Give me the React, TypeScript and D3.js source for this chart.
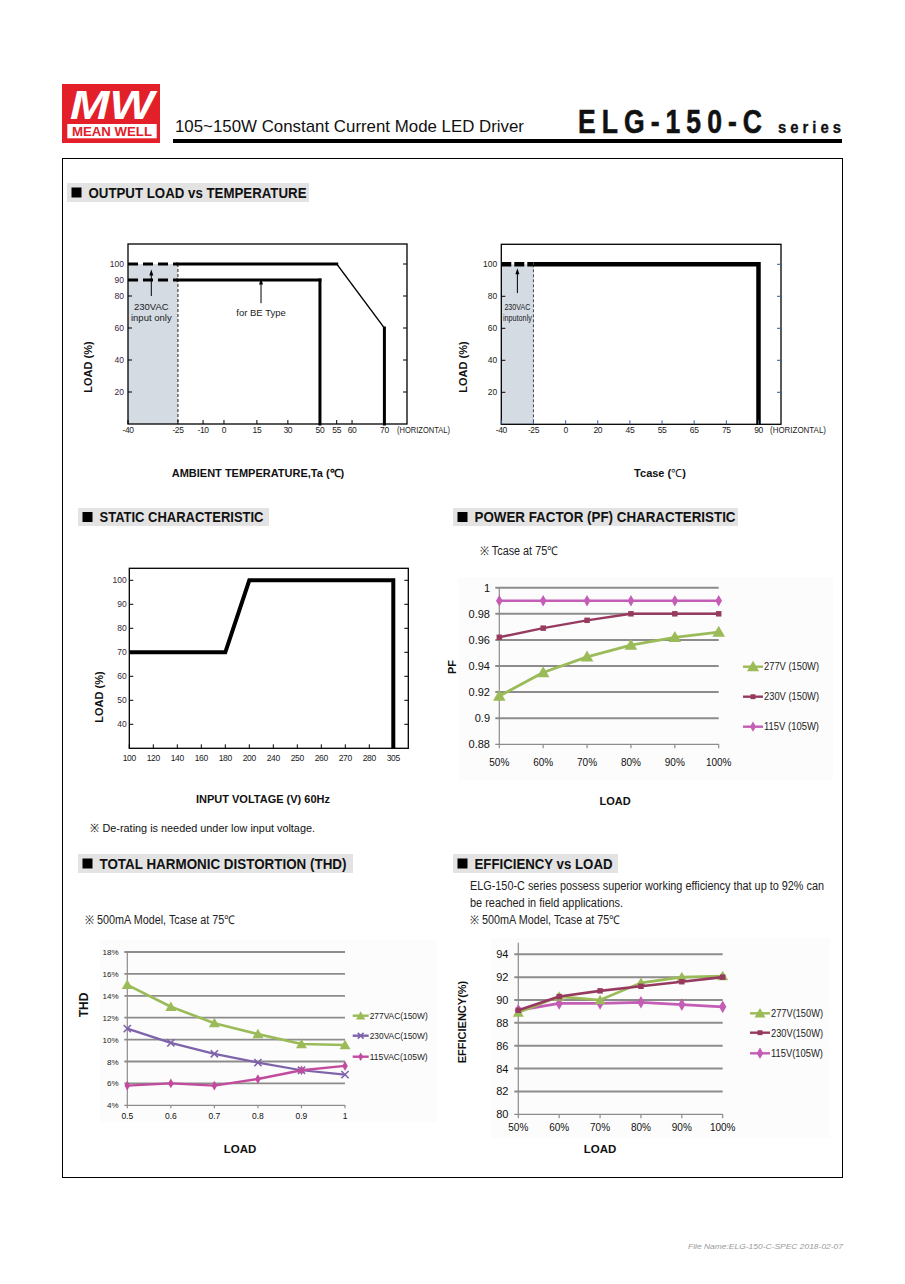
import React from 'react';
import * as d3 from 'd3';

// ---------------- DATA ----------------
// Output load vs ambient temperature
const AMB_TICKS = [-40, -25, -10, 0, 15, 30, 50, 55, 60, 70];
const AMB_Y_TICKS_L = [100, 90, 80, 60, 40, 20];
const AMB_Y_TICKS_R = [100, 80, 60, 40, 20];
const AMB_STD: [number, number][] = [[-25, 100], [55, 100], [70, 60], [70, 0]];
const AMB_BE: [number, number][] = [[-25, 90], [50, 90], [50, 0]];
const AMB_DASH_LEVELS = [100, 90];
const AMB_SHADE = [-40, -25];

// Output load vs Tcase
const CASE_TICKS = ['-40', '-25', '0', '20', '45', '55', '65', '75', '90'];
const CASE_Y_TICKS = [100, 80, 60, 40, 20];
const CASE_LOAD: [string, number][] = [['-25', 100], ['90', 100], ['90', 0]];

// Static characteristic
const VIN_TICKS = ['100', '120', '140', '160', '180', '200', '240', '250', '260', '270', '280', '305'];
const STATIC_Y_TICKS = [100, 90, 80, 70, 60, 50, 40];
const STATIC_LOAD: [string, number][] = [['100', 70], ['180', 70], ['200', 100], ['305', 100], ['305', 30]];

// Power factor
const LOAD_PCT = ['50%', '60%', '70%', '80%', '90%', '100%'];
const PF_TICKS = [0.88, 0.9, 0.92, 0.94, 0.96, 0.98, 1];
const PF_277 = [0.917, 0.935, 0.947, 0.956, 0.962, 0.966];
const PF_230 = [0.962, 0.969, 0.975, 0.980, 0.980, 0.980];
const PF_115 = [0.990, 0.990, 0.990, 0.990, 0.990, 0.990];
const PF_NAMES = ['277V (150W)', '230V (150W)', '115V (105W)'];

// THD
const THD_LOAD = [0.5, 0.6, 0.7, 0.8, 0.9, 1];
const THD_TICKS = [4, 6, 8, 10, 12, 14, 16, 18];
const THD_277 = [15.0, 13.0, 11.5, 10.5, 9.6, 9.5];
const THD_230 = [11.0, 9.7, 8.7, 7.9, 7.2, 6.8];
const THD_115 = [5.8, 6.0, 5.8, 6.4, 7.2, 7.6];
const THD_NAMES = ['277VAC(150W)', '230VAC(150W)', '115VAC(105W)'];

// Efficiency
const EFF_TICKS = [80, 82, 84, 86, 88, 90, 92, 94];
const EFF_277 = [88.9, 90.3, 90.0, 91.5, 92.0, 92.1];
const EFF_230 = [89.1, 90.3, 90.8, 91.2, 91.6, 92.0];
const EFF_115 = [89.1, 89.7, 89.7, 89.8, 89.6, 89.4];
const EFF_NAMES = ['277V(150W)', '230V(150W)', '115V(105W)'];

// ---------------- LAYOUT ----------------
const FONT = "'Liberation Sans', Arial, Helvetica, sans-serif";
const AMB_TICK_FRAC = [0, 0.179, 0.269, 0.344, 0.462, 0.573, 0.688, 0.748, 0.803, 0.919];
const GREEN = '#9bbb59';
const MAROON = '#973a60';
const ORCHID = '#c35db5';
const PURPLE = '#7e62aa';
const PINK = '#c24b9d';
const GRID = '#8c8c8c';
const PLOT_BG = '#fcfcfc';
const LOGO_RED = '#e3202a';

type MarkerType = 'tri' | 'sq' | 'dia' | 'x';

function Marker({ type, x, y, color, size = 1 }: { type: MarkerType; x: number; y: number; color: string; size?: number }) {
  if (type === 'x') {
    const s = 3.6 * size;
    return (
      <g stroke={color} strokeWidth={1.6}>
        <line x1={x - s} y1={y - s} x2={x + s} y2={y + s} />
        <line x1={x - s} y1={y + s} x2={x + s} y2={y - s} />
      </g>
    );
  }
  const sym = type === 'tri' ? d3.symbolTriangle : type === 'sq' ? d3.symbolSquare : d3.symbolDiamond;
  const area = (type === 'tri' ? 52 : type === 'sq' ? 30 : 38) * size * size;
  const d = d3.symbol(sym, area)() || '';
  return <path d={d} transform={`translate(${x},${y + (type === 'tri' ? 1 : 0)})`} fill={color} />;
}

function Series({ pts, color, marker, width = 2.4, size = 1 }: { pts: [number, number][]; color: string; marker: MarkerType; width?: number; size?: number }) {
  const d = d3.line()(pts) || '';
  return (
    <g>
      <path d={d} fill="none" stroke={color} strokeWidth={width} strokeLinejoin="round" />
      {pts.map((p, i) => (
        <Marker key={i} type={marker} x={p[0]} y={p[1]} color={color} size={size} />
      ))}
    </g>
  );
}

function Heading({ x, y, w, h, text, textW }: { x: number; y: number; w: number; h: number; text: string; textW: number }) {
  return (
    <g>
      <rect x={x} y={y} width={w} height={h} fill="#e3e3e3" />
      <rect x={x + 4.5} y={y + h / 2 - 5} width={10} height={10} fill="#000" />
      <text x={x + 21.5} y={y + h - 3.6} fontSize={15} fontWeight="bold" fill="#111" textLength={textW} lengthAdjust="spacingAndGlyphs">
        {text}
      </text>
    </g>
  );
}

function Arrow({ x, y1, y2 }: { x: number; y1: number; y2: number }) {
  return (
    <g>
      <line x1={x} y1={y1} x2={x} y2={y2 + 4} stroke="#000" strokeWidth={1} />
      <path d={`M${x},${y2} L${x - 2},${y2 + 6} L${x + 2},${y2 + 6} Z`} fill="#000" />
    </g>
  );
}

function RotLabel({ x, y, text, size = 11 }: { x: number; y: number; text: string; size?: number }) {
  return (
    <text transform={`translate(${x},${y}) rotate(-90)`} textAnchor="middle" fontSize={size} fontWeight="bold" fill="#111">
      {text}
    </text>
  );
}

// ---------------- CHARTS ----------------
function AmbientChart() {
  const L = 128, R = 407, T = 244, B = 424;
  const x = d3.scaleLinear().domain(AMB_TICKS).range(AMB_TICK_FRAC.map((f) => L + f * (R - L)));
  const y = d3.scaleLinear().domain([0, 112.5]).range([B, T]);
  const seg = (pts: [number, number][]) =>
    pts.slice(1).map((p, i) => {
      const a = pts[i];
      const straight = a[0] === p[0] || a[1] === p[1];
      return (
        <line key={i} x1={x(a[0])} y1={y(a[1])} x2={x(p[0])} y2={y(p[1])} stroke="#000" strokeWidth={straight ? 3 : 1.4} strokeLinecap="square" />
      );
    });
  return (
    <g>
      <rect x={x(AMB_SHADE[0])} y={y(100)} width={x(AMB_SHADE[1]) - x(AMB_SHADE[0])} height={y(0) - y(100)} fill="#d4dbe2" />
      <line x1={x(AMB_SHADE[1])} y1={y(100)} x2={x(AMB_SHADE[1])} y2={B} stroke="#222" strokeWidth={1} strokeDasharray="3 2" />
      {AMB_DASH_LEVELS.map((v) => (
        <line key={v} x1={x(AMB_SHADE[0])} y1={y(v)} x2={x(AMB_SHADE[1])} y2={y(v)} stroke="#000" strokeWidth={3} strokeDasharray="10 5" />
      ))}
      {seg(AMB_STD)}
      {seg(AMB_BE)}
      <rect x={L} y={T} width={R - L} height={B - T} fill="none" stroke="#000" strokeWidth={1.3} />
      {AMB_Y_TICKS_L.map((v) => (
        <g key={v}>
          <line x1={L} x2={L + 4} y1={y(v)} y2={y(v)} stroke="#000" strokeWidth={1} />
          <text x={L - 4} y={y(v) + 3} fontSize={8.5} textAnchor="end" fill="#3a1f3a">{v}</text>
        </g>
      ))}
      {AMB_Y_TICKS_R.map((v) => (
        <line key={v} x1={R - 4} x2={R} y1={y(v)} y2={y(v)} stroke="#000" strokeWidth={1} />
      ))}
      {AMB_TICKS.map((v) => (
        <g key={v}>
          <line x1={x(v)} x2={x(v)} y1={B} y2={B - 4} stroke="#000" strokeWidth={1} />
          <text x={x(v)} y={B + 9} fontSize={8.5} textAnchor="middle" fill="#222" letterSpacing={-0.4}>{v}</text>
        </g>
      ))}
      <text x={397} y={B + 9} fontSize={8.5} fill="#222" textLength={53} lengthAdjust="spacingAndGlyphs">(HORIZONTAL)</text>
      <Arrow x={x(-33)} y1={y(80)} y2={y(96.5)} />
      <text x={x(-33)} y={310} fontSize={9.5} textAnchor="middle" fill="#222">230VAC</text>
      <text x={x(-33)} y={320.5} fontSize={9.5} textAnchor="middle" fill="#222">input only</text>
      <Arrow x={x(17)} y1={y(75.5)} y2={y(91)} />
      <text x={x(17)} y={316} fontSize={9.5} textAnchor="middle" fill="#222">for BE Type</text>
      <RotLabel x={92} y={367} text="LOAD (%)" />
      <text x={258} y={477} fontSize={11} fontWeight="bold" textAnchor="middle" fill="#111">AMBIENT TEMPERATURE,Ta (℃)</text>
    </g>
  );
}

function CaseChart() {
  const L = 501.3, R = 781, T = 244.3, B = 424.3;
  const x = d3.scalePoint<string>().domain(CASE_TICKS).range([L, 758.5]);
  const y = d3.scaleLinear().domain([0, 112.5]).range([B, T]);
  const line = d3.line<[string, number]>().x((d) => x(d[0]) as number).y((d) => y(d[1]));
  const step = x.step();
  const ax = (x('-40') as number) + step / 2;
  return (
    <g>
      <rect x={x('-40')} y={y(100)} width={(x('-25') as number) - (x('-40') as number)} height={y(0) - y(100)} fill="#d4dbe2" />
      <line x1={x('-25')} y1={y(100)} x2={x('-25')} y2={B} stroke="#444" strokeWidth={1} strokeDasharray="3 2" />
      <line x1={x('-40')} y1={y(100)} x2={x('-25')} y2={y(100)} stroke="#000" strokeWidth={4.5} strokeDasharray="10 3" />
      <path d={line(CASE_LOAD) || ''} fill="none" stroke="#000" strokeWidth={4.5} strokeLinejoin="miter" />
      <rect x={L} y={T} width={R - L} height={B - T} fill="none" stroke="#000" strokeWidth={1.3} />
      {CASE_Y_TICKS.map((v) => (
        <g key={v}>
          <line x1={L} x2={L + 4} y1={y(v)} y2={y(v)} stroke="#000" strokeWidth={1} />
          <line x1={R - 4} x2={R} y1={y(v)} y2={y(v)} stroke="#2f5aa6" strokeWidth={1} />
          <text x={L - 4} y={y(v) + 3} fontSize={8.5} textAnchor="end" fill="#222">{v}</text>
        </g>
      ))}
      {CASE_TICKS.map((v) => (
        <g key={v}>
          <line x1={x(v)} x2={x(v)} y1={B} y2={B - 4} stroke="#2f5aa6" strokeWidth={1} />
          <text x={x(v)} y={B + 9} fontSize={8.5} textAnchor="middle" fill="#222" letterSpacing={-0.4}>{v}</text>
        </g>
      ))}
      <text x={770} y={B + 9} fontSize={8.5} fill="#222" textLength={56} lengthAdjust="spacingAndGlyphs">(HORIZONTAL)</text>
      <Arrow x={ax} y1={y(82)} y2={y(97.5)} />
      <text x={ax} y={309.5} fontSize={9} textAnchor="middle" fill="#222" textLength={26} lengthAdjust="spacingAndGlyphs">230VAC</text>
      <text x={ax} y={321} fontSize={9} textAnchor="middle" fill="#222" textLength={29} lengthAdjust="spacingAndGlyphs">inputonly</text>
      <RotLabel x={467} y={367} text="LOAD (%)" />
      <text x={660} y={477} fontSize={11} fontWeight="bold" textAnchor="middle" fill="#111">
        Tcase (<tspan fontWeight="normal">℃</tspan>)
      </text>
    </g>
  );
}

function StaticChart() {
  const L = 129.3, R = 408.3, T = 568.3, B = 748.3;
  const x = d3.scalePoint<string>().domain(VIN_TICKS).range([L, 393.3]);
  const y = d3.scaleLinear().domain([30, 105]).range([B, T]);
  const line = d3.line<[string, number]>().x((d) => x(d[0]) as number).y((d) => y(d[1]));
  return (
    <g>
      <path d={line(STATIC_LOAD) || ''} fill="none" stroke="#000" strokeWidth={4} strokeLinejoin="miter" />
      <rect x={L} y={T} width={R - L} height={B - T} fill="none" stroke="#000" strokeWidth={1.3} />
      {STATIC_Y_TICKS.map((v) => (
        <g key={v}>
          <line x1={L} x2={L + 4} y1={y(v)} y2={y(v)} stroke="#000" strokeWidth={1} />
          <line x1={R - 4} x2={R} y1={y(v)} y2={y(v)} stroke="#000" strokeWidth={1} />
          <text x={L - 2.5} y={y(v) + 3} fontSize={8.5} textAnchor="end" fill="#3a1f3a">{v}</text>
        </g>
      ))}
      {VIN_TICKS.map((v) => (
        <g key={v}>
          <line x1={x(v)} x2={x(v)} y1={B} y2={B - 4} stroke="#000" strokeWidth={1} />
          <text x={x(v)} y={B + 13} fontSize={8.5} textAnchor="middle" fill="#222" letterSpacing={-0.4}>{v}</text>
        </g>
      ))}
      <RotLabel x={103} y={697} text="LOAD (%)" />
      <text x={263} y={803} fontSize={11} fontWeight="bold" textAnchor="middle" fill="#111">INPUT VOLTAGE (V) 60Hz</text>
      <text x={90} y={832} fontSize={11.5} fill="#111" textLength={225} lengthAdjust="spacingAndGlyphs">※ De-rating is needed under low input voltage.</text>
    </g>
  );
}

function LegendItem({ x, y, color, marker, text, size, lineW, textW, fontSize }: { x: number; y: number; color: string; marker: MarkerType; text: string; size: number; lineW: number; textW: number; fontSize: number }) {
  return (
    <g>
      <line x1={x} x2={x + lineW} y1={y} y2={y} stroke={color} strokeWidth={2.4} />
      <Marker type={marker} x={x + lineW / 2} y={y} color={color} size={size} />
      <text x={x + lineW + 1} y={y + fontSize * 0.36} fontSize={fontSize} fill="#222" textLength={textW} lengthAdjust="spacingAndGlyphs">{text}</text>
    </g>
  );
}

function PFChart() {
  const L = 499.3, R = 718.7, T = 587.7, B = 744.3;
  const x = d3.scalePoint<string>().domain(LOAD_PCT).range([L, R]);
  const y = d3.scaleLinear().domain([0.88, 1]).range([B, T]);
  const pts = (arr: number[]) => LOAD_PCT.map((c, i) => [x(c) as number, y(arr[i])] as [number, number]);
  return (
    <g>
      <rect x={458} y={577} width={375} height={203} fill={PLOT_BG} />
      {PF_TICKS.map((v) => (
        <g key={v}>
          <line x1={L - 4} x2={R} y1={y(v)} y2={y(v)} stroke={GRID} strokeWidth={v === 0.88 ? 1.2 : 2} />
          <text x={490} y={y(v) + 4} fontSize={11} textAnchor="end" fill="#111">{v}</text>
        </g>
      ))}
      <line x1={L} x2={L} y1={T} y2={B} stroke={GRID} strokeWidth={1.2} />
      {LOAD_PCT.map((c) => (
        <g key={c}>
          <line x1={x(c)} x2={x(c)} y1={B} y2={B + 4} stroke={GRID} strokeWidth={1.2} />
          <text x={x(c)} y={766} fontSize={10} textAnchor="middle" fill="#111">{c}</text>
        </g>
      ))}
      <Series pts={pts(PF_115)} color={ORCHID} marker="dia" />
      <Series pts={pts(PF_230)} color={MAROON} marker="sq" />
      <Series pts={pts(PF_277)} color={GREEN} marker="tri" width={2.8} size={1.15} />
      <LegendItem x={743} y={666.7} color={GREEN} marker="tri" text={PF_NAMES[0]} size={1.1} lineW={20} textW={55} fontSize={10.5} />
      <LegendItem x={743} y={696.7} color={MAROON} marker="sq" text={PF_NAMES[1]} size={0.9} lineW={20} textW={55} fontSize={10.5} />
      <LegendItem x={743} y={726.7} color={ORCHID} marker="dia" text={PF_NAMES[2]} size={0.9} lineW={20} textW={55} fontSize={10.5} />
      <RotLabel x={456} y={667} text="PF" />
      <text x={615} y={805} fontSize={11} fontWeight="bold" textAnchor="middle" fill="#111">LOAD</text>
      <text x={480} y={555} fontSize={12} fill="#222" textLength={78} lengthAdjust="spacingAndGlyphs">※ Tcase at 75℃</text>
    </g>
  );
}

function THDChart() {
  const L = 127.3, R = 345, T = 952, B = 1105.3;
  const x = d3.scaleLinear().domain([0.5, 1]).range([L, R]);
  const y = d3.scaleLinear().domain([4, 18]).range([B, T]);
  const pts = (arr: number[]) => THD_LOAD.map((c, i) => [x(c), y(arr[i])] as [number, number]);
  return (
    <g>
      <rect x={100} y={940} width={337} height={182} fill={PLOT_BG} />
      {THD_TICKS.map((v) => (
        <g key={v}>
          <line x1={L - 3} x2={R} y1={y(v)} y2={y(v)} stroke={GRID} strokeWidth={v === 4 ? 1.2 : 1.8} />
          <text x={118.5} y={y(v) + 3} fontSize={8} textAnchor="end" fill="#222">{v}%</text>
        </g>
      ))}
      <line x1={L} x2={L} y1={T} y2={B} stroke={GRID} strokeWidth={1.2} />
      {THD_LOAD.map((c) => (
        <g key={c}>
          <line x1={x(c)} x2={x(c)} y1={B} y2={B + 3} stroke={GRID} strokeWidth={1.2} />
          <text x={x(c)} y={1118.5} fontSize={8.5} textAnchor="middle" fill="#111">{c}</text>
        </g>
      ))}
      <Series pts={pts(THD_277)} color={GREEN} marker="tri" width={2.6} />
      <Series pts={pts(THD_230)} color={PURPLE} marker="x" width={2.2} />
      <Series pts={pts(THD_115)} color={PINK} marker="dia" width={2.4} size={0.85} />
      <LegendItem x={352.7} y={1015.7} color={GREEN} marker="tri" text={THD_NAMES[0]} size={0.85} lineW={16} textW={58} fontSize={8.5} />
      <LegendItem x={352.7} y={1035.7} color={PURPLE} marker="x" text={THD_NAMES[1]} size={0.8} lineW={16} textW={58} fontSize={8.5} />
      <LegendItem x={352.7} y={1056.7} color={PINK} marker="dia" text={THD_NAMES[2]} size={0.75} lineW={16} textW={58} fontSize={8.5} />
      <RotLabel x={88} y={1005} text="THD" size={12} />
      <text x={240} y={1153} fontSize={11.5} fontWeight="bold" textAnchor="middle" fill="#111">LOAD</text>
      <text x={85} y={924} fontSize={12} fill="#222" textLength={150} lengthAdjust="spacingAndGlyphs">※ 500mA Model, Tcase at 75℃</text>
    </g>
  );
}

function EffChart() {
  const L = 518.3, R = 722.7, T = 954.3, B = 1114.3;
  const x = d3.scalePoint<string>().domain(LOAD_PCT).range([L, R]);
  const y = d3.scaleLinear().domain([80, 94]).range([B, T]);
  const pts = (arr: number[]) => LOAD_PCT.map((c, i) => [x(c) as number, y(arr[i])] as [number, number]);
  return (
    <g>
      <rect x={491} y={938} width={339} height={200} fill={PLOT_BG} />
      {EFF_TICKS.map((v) => (
        <g key={v}>
          <line x1={L - 4} x2={R} y1={y(v)} y2={y(v)} stroke={GRID} strokeWidth={v === 80 ? 1.2 : 2} />
          <text x={508.5} y={y(v) + 4} fontSize={11} textAnchor="end" fill="#111">{v}</text>
        </g>
      ))}
      <line x1={L} x2={L} y1={y(95)} y2={B} stroke={GRID} strokeWidth={1.2} />
      {LOAD_PCT.map((c) => (
        <g key={c}>
          <line x1={x(c)} x2={x(c)} y1={B} y2={B + 4} stroke={GRID} strokeWidth={1.2} />
          <text x={x(c)} y={1131} fontSize={10} textAnchor="middle" fill="#111">{c}</text>
        </g>
      ))}
      <Series pts={pts(EFF_115)} color={ORCHID} marker="dia" width={2.8} size={1.1} />
      <Series pts={pts(EFF_277)} color={GREEN} marker="tri" width={2.6} />
      <Series pts={pts(EFF_230)} color={MAROON} marker="sq" width={2.6} />
      <LegendItem x={750} y={1013.3} color={GREEN} marker="tri" text={EFF_NAMES[0]} size={1} lineW={20} textW={52} fontSize={11} />
      <LegendItem x={750} y={1032.7} color={MAROON} marker="sq" text={EFF_NAMES[1]} size={0.9} lineW={20} textW={52} fontSize={11} />
      <LegendItem x={750} y={1053.3} color={ORCHID} marker="dia" text={EFF_NAMES[2]} size={1} lineW={20} textW={52} fontSize={11} />
      <RotLabel x={466} y={1022} text="EFFICIENCY(%)" size={11} />
      <text x={600} y={1153} fontSize={11.5} fontWeight="bold" textAnchor="middle" fill="#111">LOAD</text>
      <text x={470} y={889.5} fontSize={12} fill="#222" textLength={354} lengthAdjust="spacingAndGlyphs">ELG-150-C series possess superior working efficiency that up to 92% can</text>
      <text x={470} y={906.5} fontSize={12} fill="#222" textLength={153} lengthAdjust="spacingAndGlyphs">be reached in field applications.</text>
      <text x={470} y={924} fontSize={12} fill="#222" textLength={150} lengthAdjust="spacingAndGlyphs">※ 500mA Model, Tcase at 75℃</text>
    </g>
  );
}

function Header() {
  const sx = 0.78;
  return (
    <g>
      <rect x={62} y={84} width={98} height={59} fill={LOGO_RED} />
      <text x={112} y={118.5} fontSize={41} fontStyle="italic" fontWeight="bold" textAnchor="middle" fill="#fff" textLength={84} lengthAdjust="spacingAndGlyphs">MW</text>
      <rect x={67.3} y={124} width={89.4} height={14.3} fill="#fff" />
      <text x={112} y={136.3} fontSize={12.5} fontWeight="bold" textAnchor="middle" fill={LOGO_RED} textLength={80} lengthAdjust="spacingAndGlyphs">MEAN WELL</text>
      <text x={175} y={132} fontSize={17} fill="#111" textLength={349} lengthAdjust="spacingAndGlyphs">105~150W Constant Current Mode LED Driver</text>
      <text transform={`translate(578,132.5) scale(${sx},1)`} x={0} y={0} fontSize={34} fontWeight="bold" fill="#111" stroke="#111" strokeWidth={0.6} textLength={184 / sx} lengthAdjust="spacing">ELG-150-C</text>
      <text transform={`translate(778,132.5) scale(0.9,1)`} x={0} y={0} fontSize={16.5} fontWeight="bold" fill="#111" stroke="#111" strokeWidth={0.3} textLength={63 / 0.9} lengthAdjust="spacing">series</text>
      <rect x={173} y={139} width={669} height={4} fill="#000" />
    </g>
  );
}

export default function App() {
  return (
    <svg width={905} height={1284} viewBox="0 0 905 1284" style={{ position: 'absolute', left: 0, top: 0, background: '#fff' }} fontFamily={FONT}>
      <rect x={0} y={0} width={905} height={1284} fill="#fff" />
      <Header />
      <rect x={62.5} y={158.5} width={780} height={1019} fill="none" stroke="#000" strokeWidth={1} />
      <Heading x={67} y={183} w={242} h={19} text="OUTPUT LOAD vs TEMPERATURE" textW={218} />
      <Heading x={78} y={508} w={191} h={18} text="STATIC CHARACTERISTIC" textW={164} />
      <Heading x={453} y={508} w={285} h={18} text="POWER FACTOR (PF) CHARACTERISTIC" textW={261} />
      <Heading x={78} y={854} w={275} h={19} text="TOTAL HARMONIC DISTORTION (THD)" textW={247} />
      <Heading x={453} y={854} w={165} h={19} text="EFFICIENCY vs LOAD" textW={138} />
      <AmbientChart />
      <CaseChart />
      <StaticChart />
      <PFChart />
      <THDChart />
      <EffChart />
      <text x={843} y={1249} fontSize={8} fontStyle="italic" fill="#999" textAnchor="end" textLength={155} lengthAdjust="spacingAndGlyphs">File Name:ELG-150-C-SPEC   2018-02-07</text>
    </svg>
  );
}
